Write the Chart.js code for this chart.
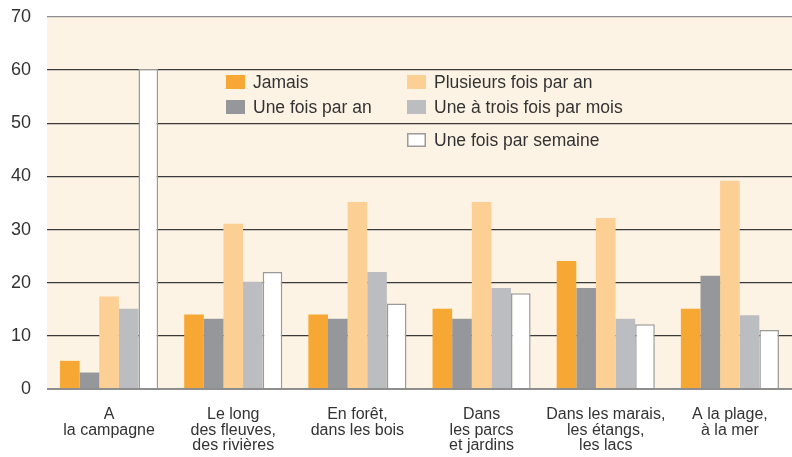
<!DOCTYPE html>
<html>
<head>
<meta charset="utf-8">
<script src="https://cdn.jsdelivr.net/npm/chart.js@4"></script>
<style>
body{margin:0;background:#fff;}
</style>
</head>
<body>
<canvas id="mychart" width="792" height="457"></canvas>
<script>
// categories (multi-line labels)
var lieux = [
 ['A','la campagne'],
 ['Le long','des fleuves,','des rivières'],
 ['En forêt,','dans les bois'],
 ['Dans','les parcs','et jardins'],
 ['Dans les marais,','les étangs,','les lacs'],
 ['A la plage,','à la mer']
]
var jamais = [5.3, 14, 14, 15.1, 24.1, 15.1]
var uneFoisAn = [3.1, 13.2, 13.2, 13.2, 19, 21.3]
var plusieursAn = [17.4, 31.1, 35.2, 35.2, 32.2, 39.2]
var uneATroisMois = [15.1, 20.2, 22, 19, 13.2, 13.9]
var uneFoisSemaine = [60.2, 22, 16.1, 18, 12.2, 11.1]
var yTicks = [0,10,20,30,40,50,60,70]

var cream = '#fdf3e4'

// cream plot background
var fondPlugin = {
 id:'fond',
 beforeDraw:function(chart){
  var a = chart.chartArea, ctx = chart.ctx
  ctx.save()
  ctx.fillStyle = cream
  ctx.fillRect(a.left, a.top, a.right-a.left, a.bottom-a.top)
  ctx.restore()
 }
}

// legend drawn inside the plot, 2 columns
var legendPlugin = {
 id:'legendeInterne',
 afterDatasetsDraw:function(chart){
  var ctx = chart.ctx
  var places = [[226,75],[226,100],[407,75],[407,100],[407,133]]
  ctx.save()
  ctx.font = '17.5px "Liberation Sans", Arial, sans-serif'
  ctx.textBaseline = 'middle'
  chart.data.datasets.forEach(function(ds,i){
   var p = places[i]
   ctx.fillStyle = ds.backgroundColor
   ctx.fillRect(p[0], p[1], 19, 14)
   if(ds.borderWidth){
    ctx.strokeStyle = ds.borderColor
    ctx.lineWidth = 1.5
    ctx.strokeRect(p[0]+0.75, p[1]+0.75, 17.5, 12.5)
   }
   ctx.fillStyle = '#333'
   ctx.fillText(ds.label, p[0]+27, p[1]+8)
  })
  ctx.restore()
 }
}

var mychart = document.getElementById('mychart').getContext('2d')
var chart = new Chart(mychart,{
 type:'bar',
 data:{
  labels:lieux,
  datasets:[
   {label:'Jamais', data:jamais, backgroundColor:'#f7a733', borderWidth:0},
   {label:'Une fois par an', data:uneFoisAn, backgroundColor:'#96979b', borderWidth:0},
   {label:'Plusieurs fois par an', data:plusieursAn, backgroundColor:'#fccf94', borderWidth:0},
   {label:'Une à trois fois par mois', data:uneATroisMois, backgroundColor:'#bcbdc0', borderWidth:0},
   {label:'Une fois par semaine', data:uneFoisSemaine, backgroundColor:'#ffffff', borderColor:'#9a9a9a', borderWidth:{top:1.5,left:1.5,right:1.5,bottom:0}}
  ]
 },
 options:{
  responsive:false,
  animation:false,
  layout:{padding:{top:17,right:0,left:0,bottom:0}},
  plugins:{legend:{display:false}, tooltip:{enabled:false}},
  datasets:{bar:{categoryPercentage:0.79, barPercentage:1.0}},
  scales:{
   x:{
    grid:{display:false},
    border:{display:false},
    ticks:{color:'#333', padding:10, maxRotation:0, autoSkip:false,
     font:{family:'"Liberation Sans", Arial, sans-serif', size:16, lineHeight:0.97}},
    afterFit:function(s){ s.height = 68; s.paddingLeft = 0; s.paddingRight = 0 }
   },
   y:{
    min:0, max:70,
    afterBuildTicks:function(s){ s.ticks = yTicks.map(function(v){return {value:v}}) },
    border:{display:false},
    grid:{
     drawTicks:false,
     color:function(c){ return (c.tick && (c.tick.value===0 || c.tick.value===70)) ? '#8e8e8e' : '#3a3a3a' },
     lineWidth:function(c){ return (c.tick && c.tick.value===0) ? 2 : 1.3 }
    },
    ticks:{color:'#333', padding:16, font:{family:'"Liberation Sans", Arial, sans-serif', size:18}},
    afterFit:function(s){ s.width = 47; s.paddingTop = 0; s.paddingBottom = 0 }
   }
  }
 },
 plugins:[fondPlugin, legendPlugin]
})
</script>
</body>
</html>
